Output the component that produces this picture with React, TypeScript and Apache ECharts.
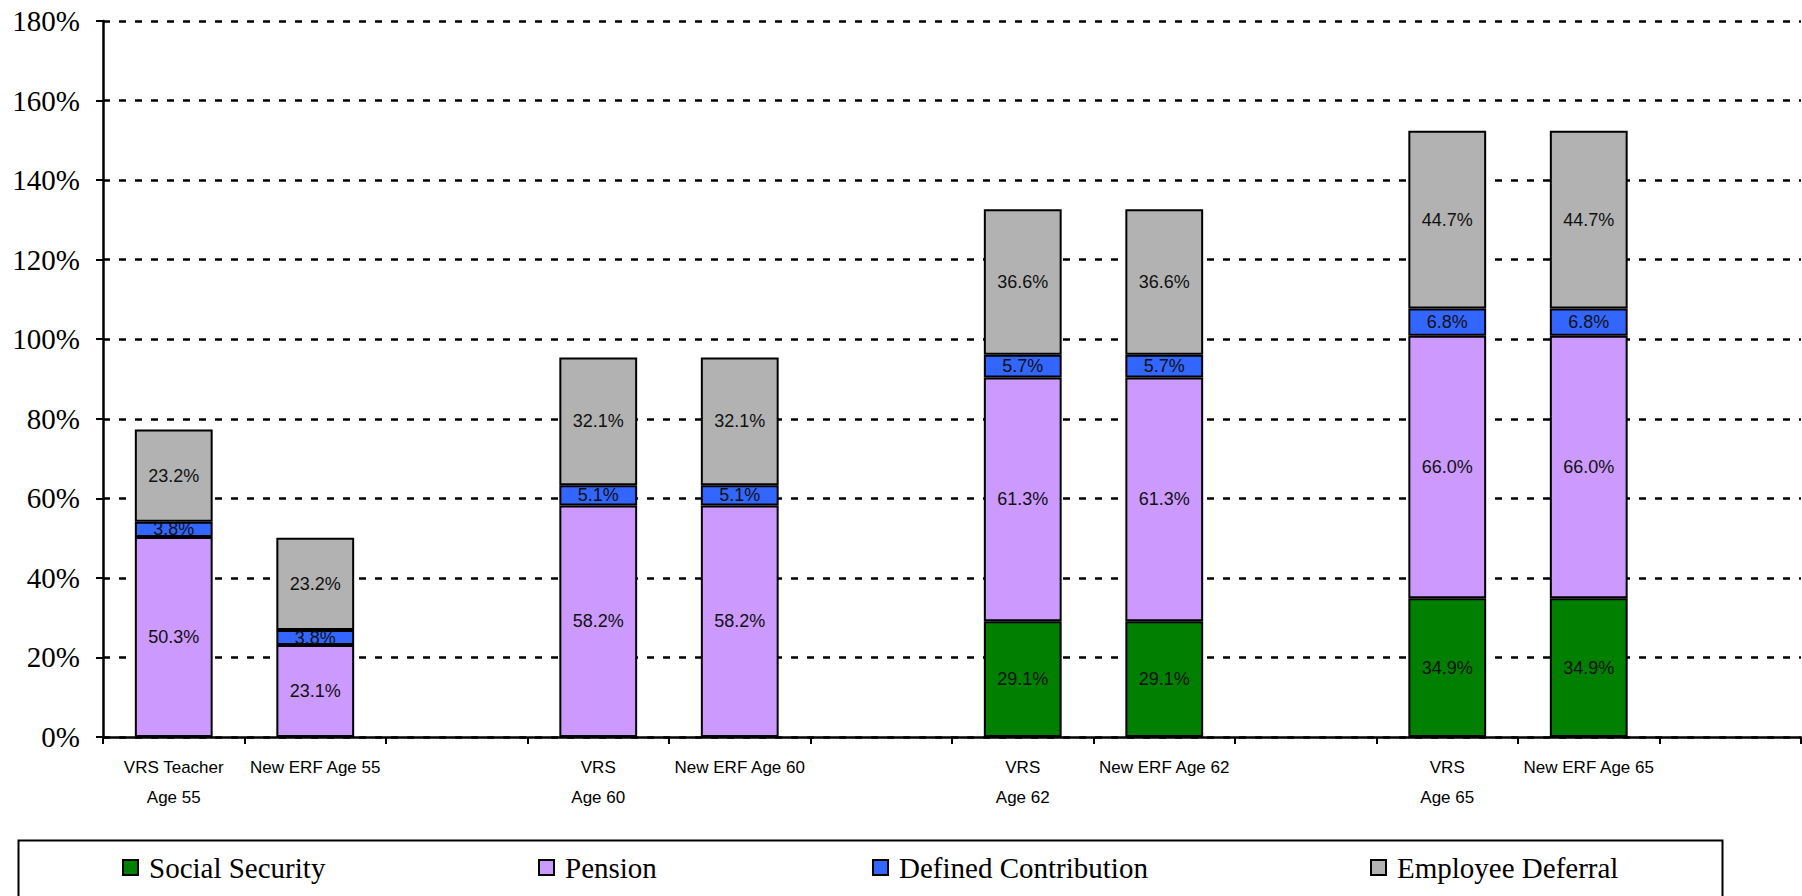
import React, { useEffect, useRef } from "react";
import * as echarts from "echarts";

// Replacement-ratio components by plan and retirement age (percent of final pay)
const categories = [
  "VRS Teacher\nAge 55",
  "New ERF Age 55",
  "",
  "VRS\nAge 60",
  "New ERF Age 60",
  "",
  "VRS\nAge 62",
  "New ERF Age 62",
  "",
  "VRS\nAge 65",
  "New ERF Age 65",
  "",
];

const socialSecurity = [null, null, null, null, null, null, 29.1, 29.1, null, 34.9, 34.9, null];
const pension = [50.3, 23.1, null, 58.2, 58.2, null, 61.3, 61.3, null, 66.0, 66.0, null];
const definedContribution = [3.8, 3.8, null, 5.1, 5.1, null, 5.7, 5.7, null, 6.8, 6.8, null];
const employeeDeferral = [23.2, 23.2, null, 32.1, 32.1, null, 36.6, 36.6, null, 44.7, 44.7, null];

const seriesDefs = [
  { name: "Social Security", data: socialSecurity, color: "#007F00" },
  { name: "Pension", data: pension, color: "#CC99FF" },
  { name: "Defined Contribution", data: definedContribution, color: "#3366FF" },
  { name: "Employee Deferral", data: employeeDeferral, color: "#B2B2B2" },
];

const legendLeft = [117, 533, 867, 1365];

const serif = "'Liberation Serif', 'Times New Roman', serif";
const sans = "'Liberation Sans', Arial, sans-serif";

export default function App() {
  const ref = useRef<HTMLDivElement>(null);

  useEffect(() => {
    if (!ref.current) return;
    const chart = echarts.init(ref.current, null, { renderer: "svg" });

    chart.setOption({
      animation: false,
      backgroundColor: "#ffffff",
      grid: { left: 103, right: 1, top: 21, bottom: 159, containLabel: false },
      xAxis: {
        type: "category",
        data: categories,
        axisLine: { lineStyle: { color: "#000", width: 2.5 } },
        axisTick: { show: true, length: 7, lineStyle: { color: "#000", width: 2 } },
        axisLabel: {
          interval: 0,
          margin: 15,
          fontFamily: sans,
          fontSize: 17,
          lineHeight: 30,
          color: "#000",
        },
      },
      yAxis: {
        type: "value",
        min: 0,
        max: 180,
        interval: 20,
        axisLine: { show: true, lineStyle: { color: "#000", width: 2.5 } },
        axisTick: { show: true, length: 7, lineStyle: { color: "#000", width: 2 } },
        axisLabel: {
          formatter: "{value}%",
          margin: 23,
          fontFamily: serif,
          fontSize: 29,
          color: "#000",
        },
        splitLine: {
          show: true,
          lineStyle: { color: "#000", width: 2.5, type: [7, 9] },
        },
      },
      legend: seriesDefs.map((s, i) => ({
        data: [s.name],
        left: legendLeft[i],
        top: 848,
        itemWidth: 15,
        itemHeight: 15,
        icon: "rect",
        selectedMode: false,
        textStyle: {
          fontFamily: serif,
          fontSize: 29,
          color: "#000",
          padding: [0, 0, 0, 6],
        },
      })),
      graphic: [
        {
          type: "rect",
          left: 16,
          top: 838,
          shape: { width: 1704, height: 80 },
          style: { fill: "none", stroke: "#000", lineWidth: 2 },
          silent: true,
        },
      ],
      series: seriesDefs.map((s) => ({
        name: s.name,
        type: "bar",
        stack: "total",
        data: s.data,
        barWidth: "55%",
        itemStyle: { color: s.color, borderColor: "#000", borderWidth: 2 },
        label: {
          show: true,
          position: "inside",
          fontFamily: sans,
          fontSize: 18,
          color: "#111",
          formatter: (p: any) => (p.value ? `${Number(p.value).toFixed(1)}%` : ""),
        },
      })),
    });

    return () => chart.dispose();
  }, []);

  return (
    <div
      ref={ref}
      style={{ position: "fixed", left: 0, top: 0, width: 1802, height: 896 }}
    />
  );
}
